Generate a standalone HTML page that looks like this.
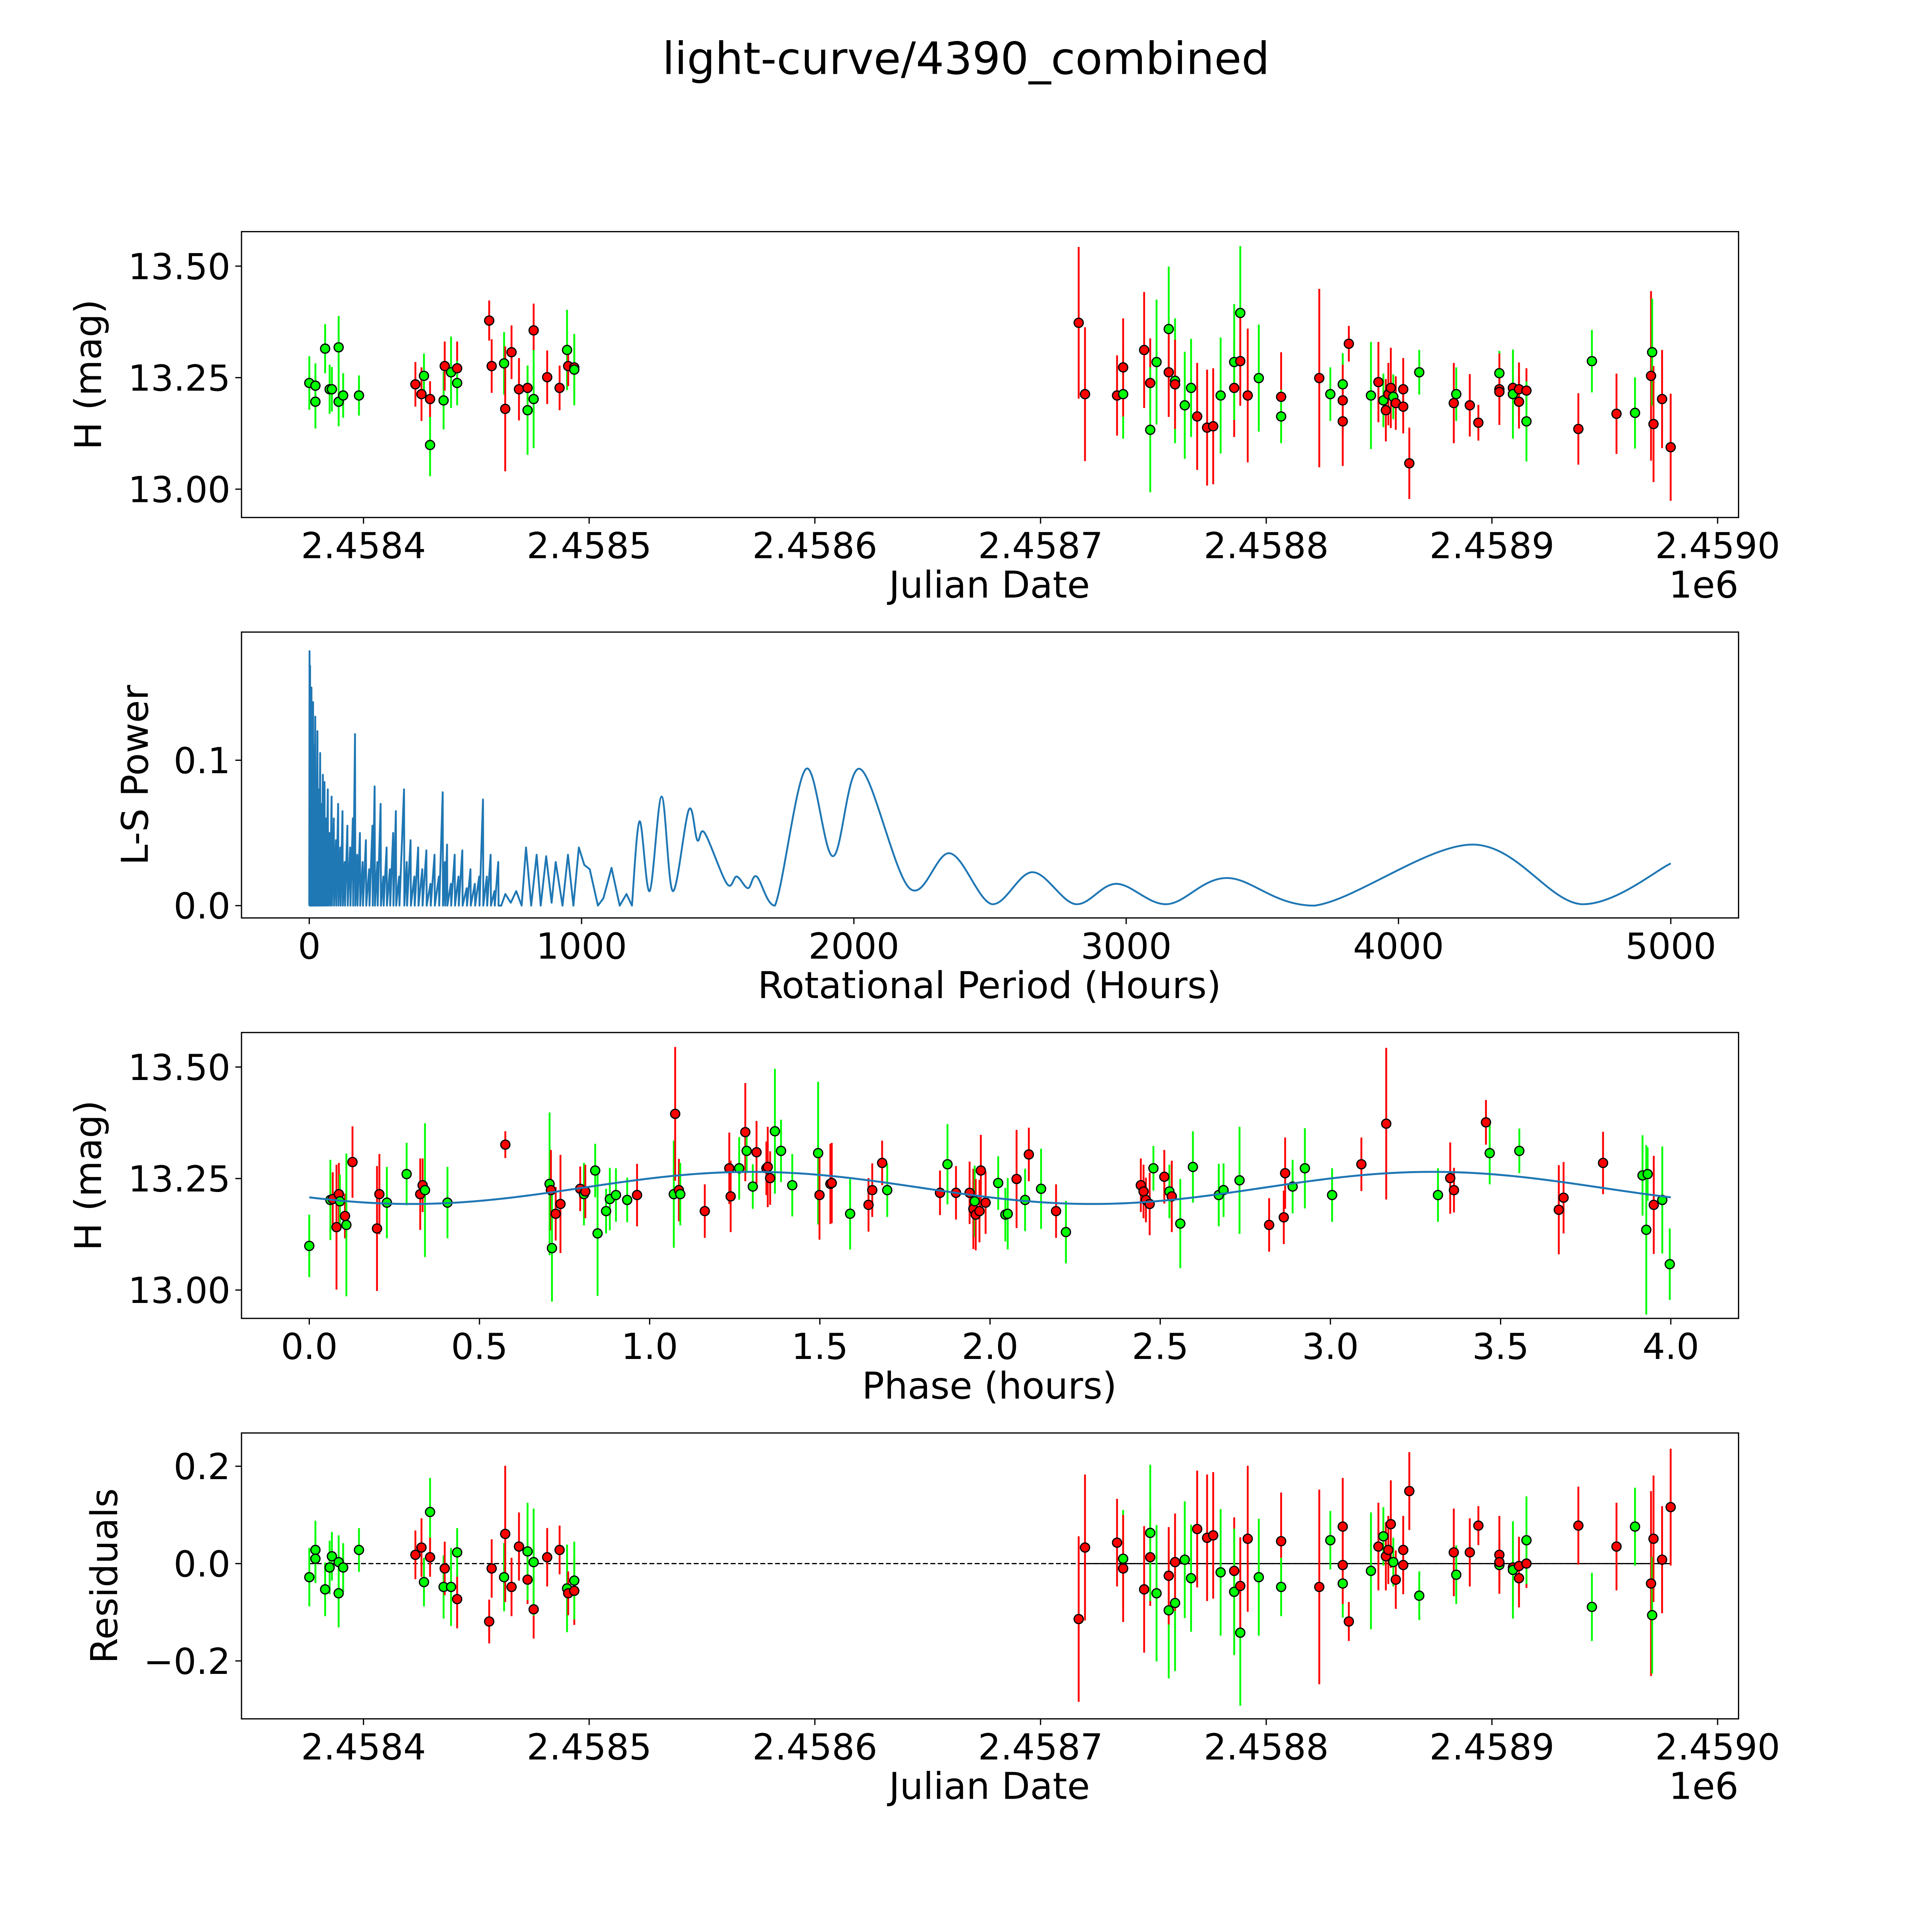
<!DOCTYPE html>
<html><head><meta charset="utf-8"><title>light-curve/4390_combined</title>
<style>html,body{margin:0;padding:0;background:#fff;overflow:hidden;width:100vw;height:100vh}svg{display:block;width:100vw;height:100vh}</style></head>
<body>
<svg id="fig" xmlns="http://www.w3.org/2000/svg" viewBox="0 0 1568 1568" preserveAspectRatio="none" font-family="DejaVu Sans, Liberation Sans, sans-serif">
<rect x="0" y="0" width="1568" height="1568" fill="#fff"/>
<text x="784" y="60" font-size="36" text-anchor="middle">light-curve/4390_combined</text>
<g id="p1"></g>
<g id="p2"></g>
<g id="p3"></g>
<g id="p4"></g>
</svg>
<script>
// ---------- data ----------
const jdDates = [2458376,2458378.7,2458378.7,2458383,2458385,2458386,2458389,2458389,2458391,2458398,
2458423,2458425.7,2458426.8,2458429.5,2458429.5,2458435.5,2458436,2458438.8,2458441.5,2458441.5,2458455.7,2458456.8,2458462.3,2458462.8,2458465.6,2458468.9,2458472.7,2458472.7,2458475.4,2458475.4,2458481.4,2458486.9,2458490.2,2458490.7,2458493.4,2458493.4,
2458716.9,2458719.7,2458733.9,2458736.6,2458736.6,2458745.9,2458748.6,2458748.6,2458751.4,2458756.8,2458756.8,2458759.6,2458759.6,2458763.9,2458766.7,2458769.4,2458773.8,2458776.5,2458779.8,2458785.8,2458785.8,2458788.5,2458788.5,2458791.8,2458796.7,2458806.6,2458806.6,2458823.5,2458828.4,2458833.9,2458833.9,2458833.9,2458836.6,2458846.4,2458849.7,2458851.9,2458853,2458854.1,2458855.2,2458856.3,2458857.4,2458860.7,2458860.7,2458863.4,2458867.8,2458883.1,2458884.2,2458890.2,2458894,2458903.3,2458903.3,2458903.3,2458909.3,2458909.3,2458912,2458912,2458915.3,2458915.3,2458938.3,2458944.3,2458955.2,2458963.4,2458970.5,2458971,2458971.6,2458975.4,2458979.2];
const jdMags = [13.238,13.196,13.232,13.315,13.224,13.224,13.318,13.196,13.210,13.210,
13.235,13.213,13.254,13.099,13.202,13.199,13.276,13.262,13.271,13.238,13.378,13.276,13.282,13.180,13.307,13.224,13.227,13.177,13.356,13.202,13.251,13.227,13.312,13.276,13.273,13.268,
13.373,13.213,13.210,13.213,13.273,13.312,13.238,13.133,13.285,13.359,13.262,13.243,13.235,13.188,13.227,13.163,13.138,13.141,13.210,13.227,13.285,13.395,13.287,13.210,13.249,13.207,13.163,13.249,13.213,13.235,13.199,13.152,13.326,13.210,13.240,13.199,13.177,13.213,13.227,13.207,13.193,13.224,13.185,13.058,13.262,13.193,13.213,13.188,13.149,13.260,13.224,13.218,13.227,13.213,13.224,13.196,13.221,13.152,13.135,13.287,13.169,13.171,13.254,13.307,13.146,13.202,13.094];
const jdErrs = [.06,.06,.05,.055,.055,.05,.07,.055,.05,.045,
.05,.06,.05,.07,.04,.065,.055,.08,.06,.05,.045,.06,.07,.14,.06,.07,.05,.1,.06,.11,.06,.05,.09,.045,.07,.08,
.17,.15,.09,.1,.11,.13,.1,.14,.14,.14,.1,.14,.1,.12,.11,.12,.13,.13,.13,.11,.13,.15,.1,.15,.12,.1,.06,.2,.06,.07,.08,.1,.04,.12,.09,.06,.07,.07,.09,.05,.06,.07,.06,.08,.05,.09,.06,.07,.04,.05,.08,.05,.08,.1,.06,.06,.05,.09,.08,.07,.09,.08,.19,.12,.13,.11,.12];
const jdColors = "gggggggggg"+"rrgg rgrgrg rrgrrrrgrgrrgrrg".replace(/ /g,"")+"rrrgrrrggg rgrggrrrgrggrrgr grggrrrgrgrrrgrrrrgrgrrgr rrgrrrgrgrgrgrrrggrgg".replace(/ /g,"");
const residuals = [-.028,.028,.010,-.053,-.008,.015,-.061,.003,-.008,.028,
.018,.033,-.038,.106,.013,-.048,-.010,-.048,-.073,.023,-.119,-.010,-.028,.061,-.048,.035,-.033,.025,-.094,.003,.013,.028,-.051,-.061,-.056,-.035,
-.114,.033,.043,.010,-.010,-.053,.013,.063,-.061,-.096,-.025,-.081,.003,.008,-.030,.071,.053,.058,-.018,-.015,-.058,-.142,-.046,.051,-.028,.046,-.048,-.048,.048,-.041,-.003,.076,-.119,-.015,.035,.056,.015,.028,.081,.003,-.033,.028,-.003,.149,-.066,.023,-.023,.023,.078,-.003,.018,.003,-.008,-.013,-.030,-.005,0,.048,.078,-.089,.035,.076,-.041,-.106,.051,.008,.116];

const phases = [0,.062,.069,.080,.087,.090,.105,.109,.127,.199,.206,.228,.286,.326,.333,.340,.406,.576,.706,.710,.713,.724,.738,.796,.807,.811,.840,.847,.872,.883,.901,.934,.963,1.071,1.075,1.086,1.090,1.162,1.234,1.238,1.263,1.281,1.285,1.303,1.314,1.343,1.347,1.354,1.368,1.386,1.419,1.495,1.499,1.531,1.535,1.589,1.643,1.654,1.683,1.698,1.853,1.875,1.900,1.940,1.951,1.955,1.958,1.969,1.973,1.987,2.024,2.045,2.052,2.078,2.103,2.114,2.150,2.194,2.223,2.443,2.451,2.458,2.469,2.480,2.512,2.527,2.534,2.559,2.596,2.672,2.686,2.733,2.820,2.863,2.867,2.889,2.925,3.005,3.091,3.164,3.316,3.352,3.363,3.457,3.468,3.555,3.671,3.685,3.801,3.917,3.928,3.932,3.950,3.975,3.997];
const phaseMags = [13.099,13.202,13.204,13.141,13.215,13.199,13.166,13.146,13.287,13.138,13.215,13.196,13.260,13.215,13.235,13.224,13.196,13.326,13.238,13.224,13.094,13.171,13.193,13.227,13.215,13.221,13.268,13.127,13.177,13.204,13.213,13.202,13.213,13.215,13.395,13.224,13.215,13.177,13.273,13.210,13.273,13.354,13.312,13.232,13.309,13.273,13.276,13.251,13.356,13.312,13.235,13.307,13.213,13.238,13.240,13.171,13.191,13.224,13.285,13.224,13.218,13.282,13.218,13.218,13.182,13.199,13.169,13.177,13.268,13.196,13.240,13.169,13.171,13.249,13.202,13.304,13.227,13.177,13.130,13.235,13.221,13.202,13.193,13.273,13.254,13.221,13.210,13.149,13.276,13.213,13.224,13.246,13.146,13.163,13.262,13.232,13.273,13.213,13.282,13.373,13.213,13.251,13.224,13.376,13.307,13.312,13.180,13.207,13.285,13.257,13.135,13.260,13.191,13.202,13.058];
const phaseColors = "ggrrrgrgrrrgg rrgg rgrgrrrgrgggggg rgrrgrrrgrggrrrrggg grrrgrrrg rgrrrgrrrrgggrgrgrg rrrrgrgrgggggrrrgg grrgrrrggrrrgggrgg r".replace(/ /g,"");
const phaseErrs = [.07,.09,.06,.14,.07,.06,.05,.16,.08,.14,.09,.08,.07,.08,.06,.15,.08,.03,.16,.09,.12,.06,.11,.05,.07,.06,.06,.14,.05,.07,.06,.05,.07,.12,.15,.07,.07,.06,.08,.08,.07,.11,.05,.05,.07,.06,.09,.06,.14,.07,.07,.16,.1,.09,.09,.08,.06,.06,.05,.06,.05,.09,.06,.07,.09,.08,.08,.07,.08,.07,.06,.06,.08,.11,.07,.06,.09,.06,.07,.06,.06,.05,.07,.05,.06,.06,.08,.1,.08,.07,.06,.12,.06,.06,.08,.06,.09,.06,.06,.17,.06,.08,.05,.05,.07,.05,.1,.08,.07,.09,.19,.06,.11,.12,.08];

const modelPeriod = 2.0, modelMean = 13.229, modelAmp = 0.036, modelPhase0 = 0.8;

const lsSpikePeriods = [1,3,5,8,11,14,18,22,26,30,35,40,45,50,56,62,68,75,82,90,98,106,114,122,130,140,150,160,168,176,186,196,208,220,232,240,250,262,272,284,296,308,318,330,348,358,372,386,400,415,430,445,460,476,490,498,506,520,534,548,562,578,592,608,624,638,652,666,680,694];
const lsSpikePowers = [.175,.165,.12,.15,.10,.14,.11,.13,.09,.12,.08,.105,.07,.09,.085,.06,.08,.05,.075,.06,.045,.07,.04,.065,.03,.055,.04,.06,.118,.035,.05,.03,.045,.025,.055,.082,.03,.07,.02,.04,.025,.05,.065,.02,.08,.03,.045,.02,.04,.025,.038,.015,.035,.02,.078,.03,.042,.015,.035,.02,.038,.012,.025,.015,.02,.073,.02,.035,.01,.03];
const lsMidPeriods = [705,720,740,760,780,796,815,835,850,870,890,905,930,950,970,990,1010,1030,1060,1080,1110,1140,1165,1185];
const lsMidPowers = [0,.008,.002,.01,0,.04,0,.035,0,.034,.002,.03,0,.035,0,.04,.028,.025,0,.005,.026,0,.008,0];
const lsSmoothPeriods = [1185,1213,1250,1294,1335,1394,1425,1452,1534,1570,1611,1643,1710,1824,1923,2023,2204,2353,2507,2656,2814,2964,3150,3371,3692,4271,4670,5000];
const lsSmoothPowers = [0,.058,.01,.075,.01,.066,.045,.05,.015,.02,.012,.02,0,.094,.034,.094,.012,.036,.001,.023,.001,.015,.001,.019,0,.042,.001,.029];

const jdTicks = [2458400,2458500,2458600,2458700,2458800,2458900,2459000];
const jdTickLabels = ["2.4584","2.4585","2.4586","2.4587","2.4588","2.4589","2.4590"];
const magTicks = [13.0,13.25,13.5];
const magTickLabels = ["13.00","13.25","13.50"];
const lsXTicks = [0,1000,2000,3000,4000,5000];
const lsXTickLabels = ["0","1000","2000","3000","4000","5000"];
const lsYTicks = [0,0.1];
const lsYTickLabels = ["0.0","0.1"];
const phTicks = [0,0.5,1,1.5,2,2.5,3,3.5,4];
const phTickLabels = ["0.0","0.5","1.0","1.5","2.0","2.5","3.0","3.5","4.0"];
const resTicks = [-0.2,0,0.2];
const resTickLabels = ["\u22120.2","0.0","0.2"];

// ---------- helpers ----------
const NS = "http://www.w3.org/2000/svg";
function mk(tag, attrs, parent){const e=document.createElementNS(NS,tag);for(const k in attrs)e.setAttribute(k,attrs[k]);parent.appendChild(e);return e;}
function lin(d0,d1,p0,p1){return v=>p0+(v-d0)/(d1-d0)*(p1-p0);}
const L=196,R=1411;
const TICK_FS=29, LABEL_FS=30;

function frame(g,top,bot,xs,xt,xl,ys,yt,yl,tickY,xlabel,xlabelY,ylabel,ylabelX,offset){
  const b=mk('rect',{x:L,y:top,width:R-L,height:bot-top,fill:'none',stroke:'#000','stroke-width':1},g);
  
  
  xt.forEach((v,i)=>{const x=xs(v);
    const t=mk('line',{x1:x,x2:x,y1:bot,y2:bot+5,stroke:'#000','stroke-width':1},g);
    
    
    const tx=mk('text',{x:x,y:tickY,'font-size':TICK_FS,'text-anchor':'middle'},g);tx.textContent=xl[i];
    
    
  });
  yt.forEach((v,i)=>{const y=ys(v);
    const t=mk('line',{x1:L-5,x2:L,y1:y,y2:y,stroke:'#000','stroke-width':1},g);
    
    
    const tx=mk('text',{x:L-9,y:y+10.5,'font-size':TICK_FS,'text-anchor':'end'},g);tx.textContent=yl[i];
    
    
  });
  const xl2=mk('text',{x:803,y:xlabelY,'font-size':LABEL_FS,'text-anchor':'middle'},g);xl2.textContent=xlabel;
  
  
  const cy=(top+bot)/2;
  const yl2=mk('text',{x:ylabelX,y:cy,'font-size':LABEL_FS,'text-anchor':'middle',transform:`rotate(-90 ${ylabelX} ${cy})`},g);yl2.textContent=ylabel;
  
  
  if(offset){const o=mk('text',{x:R,y:xlabelY,'font-size':LABEL_FS,'text-anchor':'end'},g);o.textContent=offset;
    
    }
}
function points(g,xv,yv,ev,cols,xs,ys){
  const eg=mk('g',{},g);const mg=mk('g',{},g);
  
  
  
  
  xv.forEach((v,i)=>{
    const c=(cols[i]==='r')?'#ff0000':'#00ff00';
    const e=(ev[i]!==undefined)?ev[i]:0.08;
    const x=xs(v),y=ys(yv[i]);
    const l=mk('line',{x1:x,x2:x,y1:ys(yv[i]-e),y2:ys(yv[i]+e),stroke:c,'stroke-width':1.5},eg);
    
    
    const p=mk('circle',{cx:x,cy:y,r:3.7,fill:c,stroke:'#000','stroke-width':1},mg);
    
    
  });
}

// ---------- panel 1 ----------
(function(){
  const g=document.getElementById('p1');
  const xs=lin(2458400,2459000,295,1394), ys=lin(13,13.5,397,216);
  points(g,jdDates,jdMags,jdErrs,jdColors,xs,ys);
  frame(g,188,420,xs,jdTicks,jdTickLabels,ys,magTicks,magTickLabels,453,'Julian Date',485,'H (mag)',82,'1e6');
})();

// ---------- panel 2 ----------
(function(){
  const g=document.getElementById('p2');
  const xs=lin(0,5000,251,1356), ys=lin(0,0.1,735,617);
  let d='M'+xs(0)+','+ys(0);
  lsSpikePeriods.forEach((p,i)=>{d+=' L'+xs(p)+','+ys(lsSpikePowers[i])+' L'+xs(p+1.2)+','+ys(0);});
  lsMidPeriods.forEach((p,i)=>{d+=' L'+xs(p)+','+ys(lsMidPowers[i]);});
  const P=lsSmoothPeriods.map((p,i)=>[xs(p),ys(lsSmoothPowers[i])]);
  for(let i=0;i<P.length-1;i++){
    const p0=P[Math.max(0,i-1)],p1=P[i],p2=P[i+1],p3=P[Math.min(P.length-1,i+2)];
    const c1x=p1[0]+(p2[0]-p0[0])/6, c1y=p1[1]+(p2[1]-p0[1])/6;
    const c2x=p2[0]-(p3[0]-p1[0])/6, c2y=p2[1]-(p3[1]-p1[1])/6;
    d+=` C${c1x},${Math.min(c1y,735)} ${c2x},${Math.min(c2y,735)} ${p2[0]},${p2[1]}`;
  }
  const path=mk('path',{d:d,fill:'none',stroke:'#1f77b4','stroke-width':1.5,'stroke-linejoin':'round'},g);
  
  
  frame(g,513,745,xs,lsXTicks,lsXTickLabels,ys,lsYTicks,lsYTickLabels,778,'Rotational Period (Hours)',810,'L-S Power',120,null);
})();

// ---------- panel 3 ----------
(function(){
  const g=document.getElementById('p3');
  const xs=lin(0,4,251,1356), ys=lin(13,13.5,1047,866);
  points(g,phases,phaseMags,phaseErrs,phaseColors,xs,ys);
  let d='';
  for(let k=0;k<=200;k++){const ph=4*k/200;
    const m=modelMean+modelAmp*Math.sin(2*Math.PI*(ph-modelPhase0)/modelPeriod);
    d+=(k?' L':'M')+xs(ph)+','+ys(m);}
  const c=mk('path',{d:d,fill:'none',stroke:'#1f77b4','stroke-width':1.6},g);
  
  
  frame(g,838,1070,xs,phTicks,phTickLabels,ys,magTicks,magTickLabels,1103,'Phase (hours)',1135,'H (mag)',82,null);
})();

// ---------- panel 4 ----------
(function(){
  const g=document.getElementById('p4');
  const xs=lin(2458400,2459000,295,1394), ys=lin(0,0.2,1269,1190);
  const z=mk('line',{x1:xs(jdDates[0]),x2:xs(jdDates[jdDates.length-1]),y1:ys(0),y2:ys(0),stroke:'#000','stroke-width':1,'stroke-dasharray':'4,2'},g);
  
  
  const z2=mk('line',{x1:xs(jdDates[36]),x2:xs(jdDates[jdDates.length-1]),y1:ys(0),y2:ys(0),stroke:'#000','stroke-width':1},g);
  
  
  points(g,jdDates,residuals,jdErrs,jdColors,xs,ys);
  frame(g,1163,1395,xs,jdTicks,jdTickLabels,ys,resTicks,resTickLabels,1428,'Julian Date',1460,'Residuals',95,'1e6');
})();
</script>
</body></html>
